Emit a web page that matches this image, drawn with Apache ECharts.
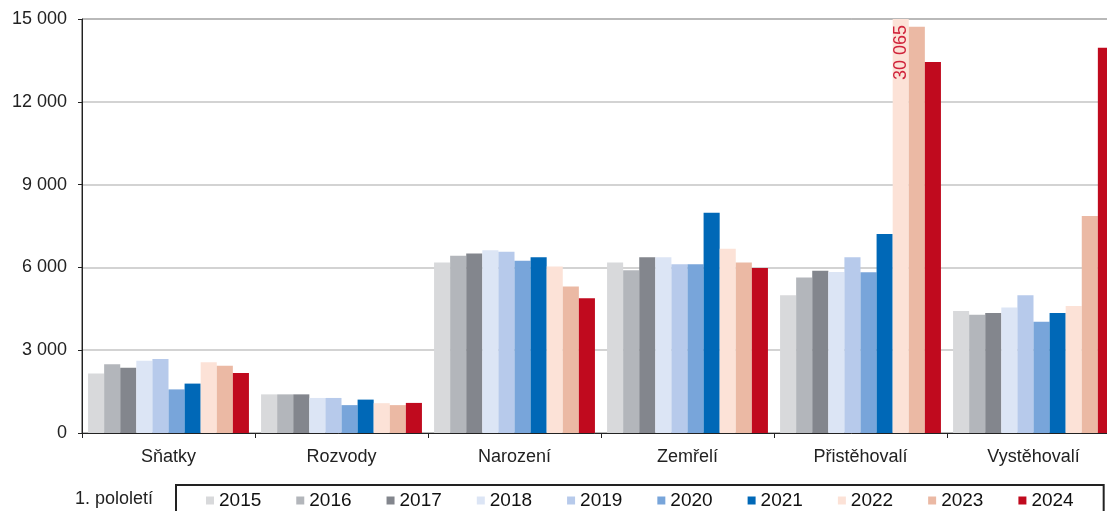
<!DOCTYPE html>
<html>
<head>
<meta charset="utf-8">
<title>Pohyb obyvatelstva – 1. pololetí</title>
<script src="https://cdn.jsdelivr.net/npm/echarts@6/dist/echarts.min.js"></script>
<style>
    html, body { margin: 0; padding: 0; background: #fff; }
    #chart { width: 1107px; height: 511px; }
</style>
</head>
<body>
<div id="chart"></div>
<script>
// Data (1st half-year, persons)
var categories = ['Sňatky', 'Rozvody', 'Narození', 'Zemřelí', 'Přistěhovalí', 'Vystěhovalí'];
var years = ['2015', '2016', '2017', '2018', '2019', '2020', '2021', '2022', '2023', '2024'];
var yearColors = ['#d8d9db', '#b3b6bb', '#83868d', '#dce5f5', '#b7caeb', '#78a5da',
                  '#0068b7', '#fce2d7', '#ebb9a4', '#c00a1e'];
var values2015 = [2160, 1400, 6180, 6180, 4990, 4420];
var values2016 = [2490, 1400, 6420, 5900, 5630, 4280];
var values2017 = [2360, 1400, 6500, 6370, 5880, 4350];
var values2018 = [2620, 1270, 6620, 6370, 5830, 4550];
var values2019 = [2680, 1270, 6570, 6110, 6370, 4990];
var values2020 = [1580, 1010, 6240, 6110, 5820, 4030];
var values2021 = [1790, 1210, 6370, 7980, 7210, 4350];
var values2022 = [2560, 1080, 6030, 6680, 30065, 4600];
var values2023 = [2440, 1010, 5310, 6180, 14720, 7860];
var values2024 = [2170, 1090, 4880, 5980, 13440, 13960];
var yTicks = [0, 3000, 6000, 9000, 12000, 15000];
var periodLabel = '1. pololetí';

(function () {
    var FONT = 'Arial, "Liberation Sans", sans-serif';
    var Y_MAX = yTicks[yTicks.length - 1];
    var allValues = [values2015, values2016, values2017, values2018, values2019,
                     values2020, values2021, values2022, values2023, values2024];

    function fmt(v) {
        return String(v).replace(/\B(?=(\d{3})+(?!\d))/g, ' ');
    }

    var series = [];
    for (var i = 0; i < years.length; i++) {
        var data = [];
        for (var j = 0; j < allValues[i].length; j++) {
            var v = allValues[i][j];
            if (v > Y_MAX) {
                // off-scale bar: clipped, real value written inside it
                data.push({
                    value: v,
                    label: {
                        show: true,
                        position: 'insideTop',
                        distance: 6,
                        rotate: 90,
                        align: 'right',
                        verticalAlign: 'middle',
                        color: '#d0243c',
                        fontSize: 18,
                        fontFamily: FONT,
                        formatter: fmt(v)
                    }
                });
            } else {
                data.push(v);
            }
        }
        series.push({
            name: years[i],
            type: 'bar',
            clip: true,
            data: data,
            itemStyle: { color: yearColors[i] },
            barGap: 0,
            barCategoryGap: '7%',
            emphasis: { disabled: true }
        });
    }

    var chart = echarts.init(document.getElementById('chart'), null, { renderer: 'canvas' });
    chart.setOption({
        animation: false,
        color: yearColors,
        title: {
            text: periodLabel,
            left: 70,
            top: 485,
            textStyle: { fontFamily: FONT, fontSize: 18, fontWeight: 'normal', color: '#222' }
        },
        grid: {
            left: 82, top: 19, width: 1038, height: 414,
            outerBoundsMode: 'none',
            containLabel: false,
            show: true, borderColor: '#333', borderWidth: 1
        },
        legend: {
            left: 176,
            top: 485,
            width: 900,
            itemWidth: 8,
            itemHeight: 8,
            itemGap: 35,
            icon: 'rect',
            padding: [6, 30, 12, 30],
            borderColor: '#222',
            borderWidth: 2,
            textStyle: { fontFamily: FONT, fontSize: 19, color: '#111' },
            data: years
        },
        xAxis: {
            type: 'category',
            data: categories,
            axisLine: { lineStyle: { color: '#222', width: 1 } },
            axisTick: { show: true, length: 5, lineStyle: { color: '#222' } },
            axisLabel: { fontFamily: FONT, fontSize: 18, color: '#222', margin: 15 }
        },
        yAxis: {
            type: 'value',
            min: 0,
            max: Y_MAX,
            interval: 3000,
            axisLine: { show: true, lineStyle: { color: '#222', width: 1 } },
            axisTick: { show: true, length: 4, lineStyle: { color: '#222' } },
            splitLine: { lineStyle: { color: '#c4c4c4', width: 1.5 } },
            axisLabel: {
                fontFamily: FONT, fontSize: 18, color: '#222', margin: 15,
                formatter: function (v) { return fmt(v); }
            }
        },
        series: series
    });
})();
</script>
</body>
</html>
